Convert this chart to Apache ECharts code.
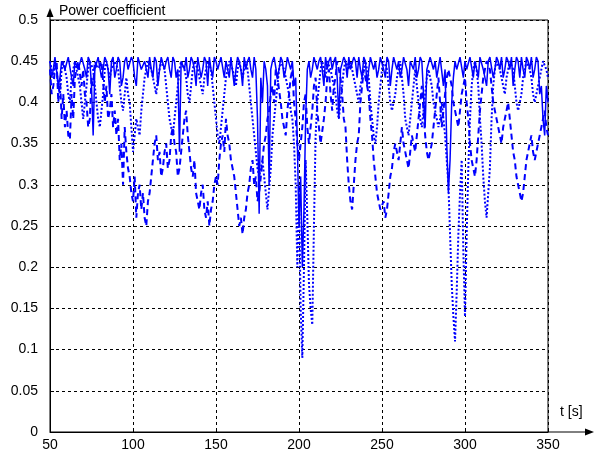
<!DOCTYPE html>
<html>
<head>
<meta charset="utf-8">
<script src="https://cdn.jsdelivr.net/npm/echarts@6/dist/echarts.min.js"></script>
<style>
  html, body { margin: 0; padding: 0; background: #fff; }
  #chart { width: 598px; height: 457px; }
</style>
</head>
<body>
<div id="chart"></div>
<script>
// Time axis samples (s), one per second from 50 to 350
const timeStart = 50;
const timeStep = 1;

// Power coefficient traces, ten samples per row (t = 50..59, 60..69, ...)
const cpSolid = [
  0.45, 0.43, 0.44, 0.455, 0.455, 0.42, 0.43, 0.45, 0.45, 0.44,
  0.44, 0.455, 0.455, 0.43, 0.42, 0.45, 0.45, 0.44, 0.44, 0.455,
  0.455, 0.44, 0.43, 0.455, 0.45, 0.42, 0.36, 0.44, 0.44, 0.455,
  0.455, 0.43, 0.44, 0.455, 0.45, 0.44, 0.41, 0.45, 0.455, 0.43,
  0.44, 0.455, 0.45, 0.42, 0.43, 0.45, 0.455, 0.44, 0.44, 0.455,
  0.45, 0.43, 0.42, 0.455, 0.455, 0.44, 0.44, 0.45, 0.45, 0.43,
  0.455, 0.44, 0.43, 0.455, 0.45, 0.42, 0.44, 0.455, 0.455, 0.44,
  0.45, 0.455, 0.44, 0.43, 0.455, 0.45, 0.43, 0.44, 0.34, 0.45,
  0.45, 0.44, 0.455, 0.43, 0.44, 0.455, 0.45, 0.44, 0.42, 0.455,
  0.455, 0.43, 0.44, 0.455, 0.45, 0.42, 0.455, 0.44, 0.43, 0.455,
  0.45, 0.44, 0.44, 0.455, 0.455, 0.43, 0.45, 0.44, 0.43, 0.455,
  0.455, 0.42, 0.44, 0.455, 0.45, 0.44, 0.42, 0.455, 0.44, 0.45,
  0.455, 0.44, 0.43, 0.455, 0.44, 0.38, 0.265, 0.43, 0.40, 0.45,
  0.44, 0.42, 0.30, 0.44, 0.45, 0.455, 0.455, 0.43, 0.44, 0.455,
  0.45, 0.43, 0.44, 0.455, 0.455, 0.44, 0.45, 0.42, 0.43, 0.35,
  0.25, 0.31, 0.20, 0.27, 0.38, 0.44, 0.45, 0.43, 0.44, 0.455,
  0.455, 0.44, 0.45, 0.455, 0.44, 0.42, 0.455, 0.44, 0.45, 0.455,
  0.44, 0.45, 0.455, 0.43, 0.38, 0.44, 0.44, 0.455, 0.45, 0.43,
  0.455, 0.44, 0.44, 0.455, 0.45, 0.43, 0.455, 0.44, 0.43, 0.455,
  0.45, 0.42, 0.44, 0.455, 0.455, 0.44, 0.45, 0.43, 0.44, 0.455,
  0.455, 0.44, 0.43, 0.455, 0.45, 0.42, 0.44, 0.455, 0.455, 0.44,
  0.45, 0.43, 0.44, 0.455, 0.455, 0.44, 0.42, 0.45, 0.45, 0.44,
  0.455, 0.43, 0.44, 0.455, 0.45, 0.41, 0.37, 0.44, 0.44, 0.455,
  0.455, 0.44, 0.45, 0.43, 0.43, 0.455, 0.455, 0.42, 0.44, 0.35,
  0.29, 0.33, 0.40, 0.43, 0.45, 0.44, 0.44, 0.455, 0.455, 0.43,
  0.45, 0.44, 0.44, 0.455, 0.455, 0.43, 0.45, 0.44, 0.43, 0.455,
  0.455, 0.44, 0.44, 0.42, 0.45, 0.455, 0.455, 0.43, 0.44, 0.455,
  0.45, 0.44, 0.455, 0.43, 0.44, 0.455, 0.45, 0.44, 0.455, 0.42,
  0.44, 0.455, 0.45, 0.43, 0.455, 0.44, 0.43, 0.455, 0.45, 0.44,
  0.455, 0.43, 0.44, 0.455, 0.45, 0.41, 0.42, 0.38, 0.36, 0.42,
  0.40
];

const cpDashed = [
  0.44, 0.41, 0.42, 0.44, 0.45, 0.40, 0.43, 0.38, 0.41, 0.37,
  0.39, 0.36, 0.355, 0.41, 0.38, 0.43, 0.43, 0.45, 0.45, 0.42,
  0.44, 0.41, 0.40, 0.37, 0.38, 0.43, 0.42, 0.45, 0.45, 0.44,
  0.44, 0.45, 0.45, 0.40, 0.42, 0.38, 0.39, 0.41, 0.37, 0.39,
  0.36, 0.38, 0.33, 0.35, 0.30, 0.37, 0.34, 0.32, 0.31, 0.29,
  0.28, 0.31, 0.26, 0.29, 0.30, 0.27, 0.29, 0.26, 0.25, 0.28,
  0.29, 0.31, 0.33, 0.35, 0.36, 0.33, 0.34, 0.31, 0.32, 0.34,
  0.35, 0.32, 0.33, 0.36, 0.37, 0.35, 0.34, 0.31, 0.32, 0.34,
  0.36, 0.38, 0.39, 0.36, 0.34, 0.32, 0.31, 0.33, 0.29, 0.28,
  0.27, 0.29, 0.30, 0.27, 0.26, 0.28, 0.25, 0.27, 0.28, 0.30,
  0.31, 0.30, 0.33, 0.35, 0.36, 0.34, 0.38, 0.36, 0.35, 0.33,
  0.33, 0.31, 0.29, 0.27, 0.25, 0.26, 0.24, 0.26, 0.27, 0.29,
  0.30, 0.32, 0.33, 0.30, 0.31, 0.28, 0.29, 0.31, 0.33, 0.35,
  0.36, 0.38, 0.39, 0.41, 0.42, 0.40, 0.44, 0.43, 0.43, 0.40,
  0.38, 0.37, 0.36, 0.39, 0.41, 0.43, 0.44, 0.40, 0.38, 0.35,
  0.33, 0.35, 0.37, 0.40, 0.41, 0.37, 0.35, 0.37, 0.39, 0.42,
  0.43, 0.39, 0.37, 0.35, 0.35, 0.38, 0.40, 0.43, 0.44, 0.41,
  0.39, 0.42, 0.43, 0.45, 0.45, 0.43, 0.41, 0.38, 0.37, 0.33,
  0.30, 0.28, 0.27, 0.30, 0.33, 0.35, 0.36, 0.40, 0.42, 0.44,
  0.44, 0.42, 0.41, 0.38, 0.36, 0.33, 0.31, 0.29, 0.28, 0.27,
  0.27, 0.28, 0.26, 0.27, 0.29, 0.31, 0.32, 0.34, 0.35, 0.34,
  0.33, 0.35, 0.37, 0.35, 0.34, 0.33, 0.32, 0.34, 0.36, 0.35,
  0.34, 0.36, 0.38, 0.40, 0.42, 0.39, 0.36, 0.34, 0.33, 0.34,
  0.35, 0.37, 0.39, 0.41, 0.43, 0.40, 0.37, 0.39, 0.41, 0.43,
  0.44, 0.43, 0.42, 0.40, 0.39, 0.38, 0.37, 0.39, 0.41, 0.42,
  0.43, 0.40, 0.38, 0.35, 0.33, 0.32, 0.31, 0.33, 0.36, 0.39,
  0.41, 0.43, 0.44, 0.45, 0.45, 0.44, 0.42, 0.40, 0.39, 0.38,
  0.37, 0.36, 0.35, 0.37, 0.38, 0.39, 0.40, 0.38, 0.36, 0.34,
  0.33, 0.31, 0.30, 0.29, 0.28, 0.29, 0.31, 0.33, 0.34, 0.35,
  0.36, 0.34, 0.33, 0.34, 0.35, 0.36, 0.37, 0.38, 0.39, 0.37,
  0.36
];

const cpDotted = [
  0.45, 0.44, 0.43, 0.45, 0.44, 0.42, 0.41, 0.44, 0.45, 0.44,
  0.43, 0.41, 0.40, 0.43, 0.44, 0.45, 0.45, 0.43, 0.42, 0.40,
  0.38, 0.40, 0.42, 0.44, 0.45, 0.45, 0.44, 0.42, 0.40, 0.38,
  0.37, 0.39, 0.41, 0.44, 0.45, 0.44, 0.43, 0.44, 0.44, 0.45,
  0.45, 0.44, 0.42, 0.40, 0.39, 0.41, 0.43, 0.41, 0.40, 0.37,
  0.34, 0.36, 0.38, 0.37, 0.36, 0.39, 0.41, 0.43, 0.44, 0.45,
  0.45, 0.44, 0.43, 0.42, 0.41, 0.43, 0.44, 0.45, 0.45, 0.44,
  0.42, 0.40, 0.38, 0.37, 0.36, 0.38, 0.40, 0.42, 0.44, 0.45,
  0.45, 0.44, 0.43, 0.41, 0.40, 0.42, 0.44, 0.45, 0.45, 0.44,
  0.43, 0.42, 0.41, 0.43, 0.44, 0.45, 0.45, 0.44, 0.42, 0.40,
  0.38, 0.36, 0.35, 0.37, 0.39, 0.41, 0.43, 0.44, 0.45, 0.45,
  0.44, 0.43, 0.42, 0.44, 0.45, 0.44, 0.43, 0.44, 0.45, 0.44,
  0.42, 0.40, 0.38, 0.36, 0.34, 0.32, 0.31, 0.32, 0.33, 0.31,
  0.29, 0.27, 0.27, 0.32, 0.36, 0.38, 0.40, 0.42, 0.44, 0.45,
  0.45, 0.44, 0.43, 0.42, 0.41, 0.39, 0.38, 0.35, 0.30, 0.20,
  0.30, 0.15, 0.09, 0.20, 0.33, 0.26, 0.18, 0.15, 0.13, 0.25,
  0.36, 0.40, 0.42, 0.44, 0.45, 0.44, 0.43, 0.45, 0.45, 0.44,
  0.44, 0.42, 0.41, 0.39, 0.38, 0.40, 0.42, 0.44, 0.45, 0.45,
  0.44, 0.45, 0.45, 0.43, 0.42, 0.41, 0.40, 0.42, 0.43, 0.44,
  0.45, 0.44, 0.43, 0.40, 0.38, 0.36, 0.35, 0.37, 0.40, 0.42,
  0.44, 0.45, 0.45, 0.44, 0.42, 0.40, 0.39, 0.40, 0.41, 0.43,
  0.44, 0.45, 0.45, 0.41, 0.38, 0.37, 0.36, 0.38, 0.40, 0.42,
  0.44, 0.42, 0.40, 0.38, 0.37, 0.39, 0.41, 0.43, 0.44, 0.43,
  0.42, 0.40, 0.39, 0.38, 0.37, 0.38, 0.40, 0.38, 0.36, 0.33,
  0.30, 0.24, 0.18, 0.14, 0.11, 0.17, 0.24, 0.29, 0.33, 0.22,
  0.14, 0.24, 0.32, 0.38, 0.42, 0.44, 0.45, 0.44, 0.42, 0.38,
  0.35, 0.31, 0.28, 0.26, 0.26, 0.32, 0.38, 0.42, 0.44, 0.45,
  0.45, 0.44, 0.43, 0.42, 0.41, 0.43, 0.44, 0.45, 0.45, 0.44,
  0.42, 0.40, 0.39, 0.40, 0.41, 0.43, 0.44, 0.45, 0.45, 0.44,
  0.43, 0.41, 0.40, 0.41, 0.42, 0.43, 0.44, 0.45, 0.45, 0.44,
  0.43
];

// Axis tick values
const xTicks = [50, 100, 150, 200, 250, 300, 350];
const yTicks = [0, 0.05, 0.1, 0.15, 0.2, 0.25, 0.3, 0.35, 0.4, 0.45, 0.5];

const yLabel = 'Power coefficient';
const xLabel = 't [s]';

function pairs(values) {
  return values.map((v, i) => [timeStart + i * timeStep, v]);
}

const LINE_BLUE = '#0000ff';
const FONT = '"Liberation Sans", Arial, sans-serif';

const chart = echarts.init(document.getElementById('chart'), null, { renderer: 'canvas' });

const option = {
  animation: false,
  backgroundColor: '#ffffff',
  grid: {
    left: 50, right: 50, top: 20, bottom: 25,
    show: true, borderColor: '#000', borderWidth: 1, backgroundColor: 'transparent'
  },
  xAxis: {
    type: 'value',
    min: xTicks[0],
    max: xTicks[xTicks.length - 1],
    interval: 50,
    axisLine: { show: true, onZero: false, lineStyle: { color: '#000', width: 1 } },
    axisTick: { show: true, inside: true, length: 4, lineStyle: { color: '#000' } },
    axisLabel: { color: '#000', fontSize: 14, fontFamily: FONT, margin: 6 },
    splitLine: { show: true, lineStyle: { color: '#000', type: [3, 3], width: 1 } }
  },
  yAxis: {
    type: 'value',
    min: yTicks[0],
    max: yTicks[yTicks.length - 1],
    interval: 0.05,
    axisLine: { show: true, onZero: false, lineStyle: { color: '#000', width: 1 } },
    axisTick: { show: true, inside: true, length: 4, lineStyle: { color: '#000' } },
    axisLabel: { color: '#000', fontSize: 14, fontFamily: FONT, margin: 12 },
    splitLine: { show: true, lineStyle: { color: '#000', type: [3, 3], width: 1 } }
  },
  series: [
    {
      type: 'line', data: pairs(cpDashed), showSymbol: false, smooth: false, z: 3,
      lineStyle: { color: LINE_BLUE, width: 2, type: [6, 4], join: 'bevel' }
    },
    {
      type: 'line', data: pairs(cpDotted), showSymbol: false, smooth: false, z: 4,
      lineStyle: { color: LINE_BLUE, width: 2, type: [2, 2], join: 'bevel' }
    },
    {
      type: 'line', data: pairs(cpSolid), showSymbol: false, smooth: false, z: 5,
      lineStyle: { color: LINE_BLUE, width: 1.5, type: 'solid', join: 'bevel' }
    }
  ]
};

chart.setOption(option);

// Axis arrows and axis titles, placed from the axis scale
const origin = chart.convertToPixel({ gridIndex: 0 }, [xTicks[0], yTicks[0]]);
const topLeft = chart.convertToPixel({ gridIndex: 0 }, [xTicks[0], yTicks[yTicks.length - 1]]);
const botRight = chart.convertToPixel({ gridIndex: 0 }, [xTicks[xTicks.length - 1], yTicks[0]]);
const yArrowTip = topLeft[1] - 12;
const xArrowTip = botRight[0] + 46;

chart.setOption({
  graphic: [
    { type: 'line', shape: { x1: origin[0], y1: topLeft[1], x2: origin[0], y2: yArrowTip + 6 },
      style: { stroke: '#000', lineWidth: 1 }, z: 10 },
    { type: 'polygon', shape: { points: [[origin[0], yArrowTip], [origin[0] - 3.5, yArrowTip + 9], [origin[0] + 3.5, yArrowTip + 9]] },
      style: { fill: '#000' }, z: 10 },
    { type: 'line', shape: { x1: botRight[0], y1: origin[1], x2: xArrowTip - 6, y2: origin[1] },
      style: { stroke: '#000', lineWidth: 1 }, z: 10 },
    { type: 'polygon', shape: { points: [[xArrowTip, origin[1]], [xArrowTip - 9, origin[1] - 3.5], [xArrowTip - 9, origin[1] + 3.5]] },
      style: { fill: '#000' }, z: 10 },
    { type: 'text', left: origin[0] + 9, top: 4,
      style: { text: yLabel, fill: '#000', font: '14px ' + FONT }, z: 10 },
    { type: 'text', left: botRight[0] + 12, top: origin[1] - 27,
      style: { text: xLabel, fill: '#000', font: '14px ' + FONT }, z: 10 }
  ]
});
</script>
</body>
</html>
